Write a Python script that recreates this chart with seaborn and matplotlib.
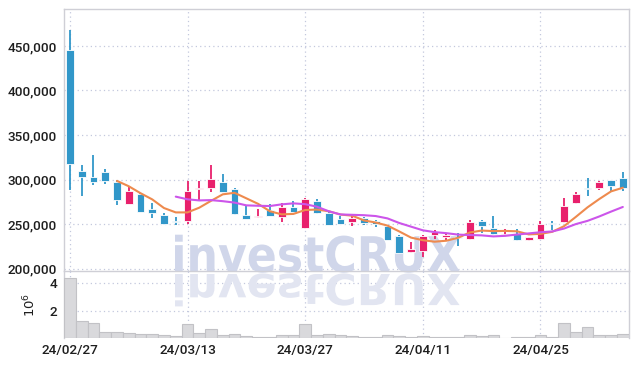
import numpy as np
import pandas as pd
import matplotlib
matplotlib.use("Agg")
import matplotlib.pyplot as plt
import seaborn as sns
from matplotlib.textpath import TextPath
from matplotlib.patches import PathPatch
from matplotlib.font_manager import FontProperties
import matplotlib.transforms as mtrans

# ---------------- data ----------------
opens = [445500, 309500, 303000, 308500, 297000, 273000, 284000, 267000, 260500, 253000,
         254000, 289000, 290000, 297000, 289500, 260500, 258000, 266000, 258000, 269000,
         245500, 276000, 262500, 256000, 252500, 257000, 253000, 248000, 237000, 218500,
         220000, 237500, 235000, 234500, 233000, 254000, 245500, 237000, 239000, 232000,
         233000, 250500, 252000, 273500, 289500, 290000, 299500, 301500]
highs = [468000, 316000, 328000, 312000, 299500, 292000, 285000, 273500, 262000, 258000,
         298000, 298500, 316000, 306000, 290000, 270500, 267000, 272000, 273500, 275500,
         279500, 278000, 265000, 259500, 259000, 258000, 254500, 249500, 238000, 230000,
         238000, 243000, 239500, 240000, 254500, 255000, 259000, 244500, 244500, 235500,
         254000, 253000, 279000, 285500, 301500, 298500, 300000, 309000]
lows = [288300, 281000, 294000, 295000, 271000, 272000, 263500, 256500, 249500, 248500,
        250000, 277000, 286000, 285500, 260500, 255500, 257000, 258500, 252000, 263000,
        244500, 261500, 249000, 250000, 248000, 249000, 246500, 232000, 217000, 218000,
        213000, 233000, 230500, 225000, 232500, 240000, 238000, 235000, 231500, 231000,
        232500, 243500, 251500, 272500, 281500, 288000, 286500, 287000]
closes = [317000, 303000, 297000, 298500, 277000, 287000, 264000, 262000, 250000, 252500,
          287000, 290500, 300500, 286500, 261000, 256000, 259500, 259000, 269000, 263500,
          278000, 262000, 249500, 250500, 257000, 251500, 250000, 232500, 217500, 222500,
          237000, 241500, 238000, 234000, 252500, 247500, 238500, 239000, 232000, 235000,
          250500, 250000, 270500, 284000, 289000, 297000, 293000, 291000]
volumes_m = [4.40, 1.21, 1.11, 0.47, 0.47, 0.40, 0.32, 0.32, 0.25, 0.15,
             1.06, 0.40, 0.67, 0.25, 0.32, 0.15, 0.07, 0.07, 0.25, 0.25,
             1.06, 0.25, 0.32, 0.25, 0.12, 0.07, 0.07, 0.22, 0.15, 0.07,
             0.15, 0.07, 0.07, 0.07, 0.22, 0.15, 0.22, 0.03, 0.07, 0.07,
             0.22, 0.07, 1.11, 0.44, 0.79, 0.22, 0.22, 0.32]
tick_pos = [0, 10, 20, 30, 40]
tick_labels = ["24/02/27", "24/03/13", "24/03/27", "24/04/11", "24/04/25"]
price_ticks = [200000, 250000, 300000, 350000, 400000, 450000]
vol_ticks = [2, 4]

# ---------------- styling ----------------
sns.set_theme(style="white")
plt.rcParams['font.family'] = ['Roboto', 'DejaVu Sans']

UP = '#e8206c'
DOWN = '#3197c9'
MA5_C = '#ee8a4e'
MA10_C = '#cc55ea'
GRID_C = '#c3c8dd'
SPINE_C = '#cfcfd6'
TXT = '#1e1e1e'
FS = 9.7
FW = 'medium'

W, H = 637, 366
fig = plt.figure(figsize=(W / 100, H / 100), dpi=100)
left, right = 64 / W, 628.7 / W
ax = fig.add_axes([left, (H - 271) / H, right - left, (271 - 9) / H])
axv = fig.add_axes([left, (H - 338) / H, right - left, (338 - 271) / H])
axv.set_facecolor('none')

df = pd.DataFrame({"i": np.arange(len(closes)), "open": opens, "high": highs,
                   "low": lows, "close": closes, "vol": volumes_m})
df["ma5"] = df["close"].rolling(5).mean()
df["ma10"] = df["close"].rolling(10).mean()

# candles
for _, r in df.iterrows():
    col = UP if r["close"] >= r["open"] else DOWN
    ax.vlines(r["i"], r["low"], r["high"], color=col, lw=1.3, zorder=3)
    lo = min(r["open"], r["close"])
    h = max(abs(r["close"] - r["open"]), 1100)
    ax.bar(r["i"], h, bottom=lo, width=0.66, color=col, edgecolor='white',
           linewidth=0.6, zorder=4)

sns.lineplot(data=df, x="i", y="ma5", ax=ax, color=MA5_C, lw=1.5, zorder=5)
sns.lineplot(data=df, x="i", y="ma10", ax=ax, color=MA10_C, lw=1.5, zorder=5)

ax.set_xlim(-0.5, len(closes) - 0.5)
ax.set_ylim(197300, 491500)
ax.set_yticks(price_ticks)
ax.set_yticklabels([f"{v:,}" for v in price_ticks], fontweight=FW)
ax.set_xticks(tick_pos)
ax.set_xticklabels([])
ax.set_xlabel("")
ax.set_ylabel("")
ax.grid(True, color=GRID_C, linestyle=(0, (1, 2.5)), lw=0.9)
ax.set_axisbelow(True)
ax.tick_params(axis='both', length=0, pad=5, labelsize=FS, labelcolor=TXT)
for s in ax.spines.values():
    s.set_color(SPINE_C)
    s.set_linewidth(1.0)

# volume
sns.barplot(data=df, x="i", y="vol", ax=axv, native_scale=True, width=1.0,
            color='#d9d9dc', edgecolor='#c2c2c6', linewidth=0.8, saturation=1,
            zorder=3)
axv.set_xlim(-0.5, len(closes) - 0.5)
axv.set_ylim(0, 4.91)
axv.set_yticks(vol_ticks)
axv.set_yticklabels([str(v) for v in vol_ticks], fontweight=FW)
axv.set_xticks(tick_pos)
axv.set_xticklabels(tick_labels, fontweight=FW)
axv.set_xlabel("")
axv.set_ylabel("$10^6$", fontsize=9.5, color=TXT, labelpad=8)
axv.grid(True, color=GRID_C, linestyle=(0, (1, 2.5)), lw=0.9)
axv.set_axisbelow(True)
axv.tick_params(axis='both', length=0, pad=5, labelsize=FS, labelcolor=TXT)
axv.tick_params(axis='x', pad=4)
for k, s in axv.spines.items():
    s.set_color(SPINE_C)
    s.set_linewidth(1.0)
axv.spines['top'].set_visible(False)
axv.spines['bottom'].set_visible(False)

# watermark with reflection
fp = FontProperties(family=['DejaVu Sans'], weight='bold')
tp = TextPath((0, 0), "investCRUX", size=100, prop=fp)
bb = tp.get_extents()
x0, x1 = 175, 460
base = H - 272
sx = (x1 - x0) / W / bb.width
tr_main = mtrans.Affine2D().translate(-bb.x0, 0).scale(sx, 38 / H / bb.height) \
    .translate(x0 / W, base / H) + fig.transFigure
tr_refl = mtrans.Affine2D().translate(-bb.x0, 0).scale(sx, -33 / H / bb.height) \
    .translate(x0 / W, (base - 2) / H) + fig.transFigure
ax.add_patch(PathPatch(tp, transform=tr_main, facecolor='#d0d6ea', edgecolor='none',
                       zorder=1.5, clip_on=False))
axv.add_patch(PathPatch(tp, transform=tr_refl, facecolor='#e2e5f1', edgecolor='none',
                        zorder=1.5, clip_on=False))

fig.savefig("out.png", dpi=100, facecolor='white')
